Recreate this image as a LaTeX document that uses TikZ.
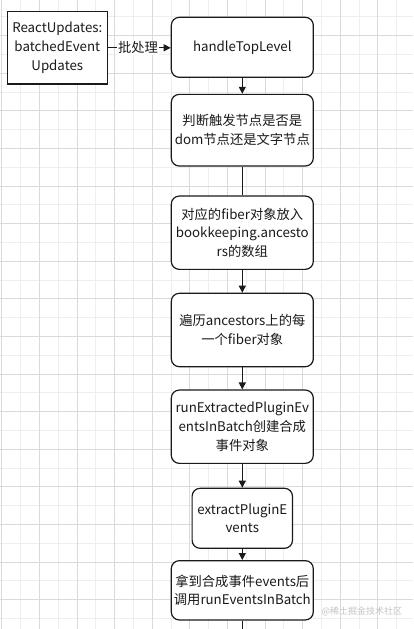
\documentclass[tikz,border=0pt]{standalone}
\usepackage{fontspec}
\setmainfont{Noto Sans CJK SC}
\usetikzlibrary{arrows.meta}
\definecolor{ink}{HTML}{1A1A1A}
\definecolor{gmin}{HTML}{EEEEEE}
\definecolor{gmaj}{HTML}{DADADA}
\definecolor{wm}{HTML}{C4C4C4}
\tikzset{
  boxbase/.style={draw=ink, line width=1.2pt, fill=white, align=center, inner sep=0pt,
    font=\fontsize{13.3}{18.7}\selectfont, text=ink},
  sqbox/.style={boxbase},
  rbox/.style={boxbase, rounded corners=8pt},
  arr/.style={draw=ink, line width=1.2pt, -{Triangle[length=7pt,width=7pt]}},
  ln/.style={draw=ink, line width=1.2pt},
  lbl/.style={fill=white, inner sep=1pt, font=\fontsize{13.3}{16}\selectfont, text=ink},
  gminor/.style={draw=gmin, line width=0.8pt},
  gmajor/.style={draw=gmaj, line width=0.8pt}
}
\begin{document}
\begin{tikzpicture}[x=1pt,y=-1pt]
\useasboundingbox (0,0) rectangle (413,629);
\fill[white] (0,0) rectangle (413,629);
% grid
\foreach \k in {0,...,11} {
  \draw[gminor] ({20.5+37.6*\k},0) -- ({20.5+37.6*\k},629);
}
\foreach \k in {0,...,17} {
  \draw[gminor] (0,{16.7+37.6*\k}) -- (413,{16.7+37.6*\k});
}
\foreach \k in {0,...,11} {
  \draw[gmajor] ({1.7+37.6*\k},0) -- ({1.7+37.6*\k},629);
}
\foreach \k in {0,...,16} {
  \draw[gmajor] (0,{35.5+37.6*\k}) -- (413,{35.5+37.6*\k});
}
% nodes
\node[sqbox, minimum width=100pt, minimum height=72.3pt] (a) at (57.3,47.8) {ReactUpdates:\\batchedEvent\\Updates};
\node[rbox, minimum width=142pt, minimum height=60pt] (b) at (242.3,47.3) {handleTopLevel};
\node[rbox, minimum width=142pt, minimum height=71.7pt] (c) at (242.3,130.2) {判断触发节点是否是\\dom节点还是文字节点};
\node[rbox, minimum width=142pt, minimum height=73.3pt] (d) at (242.3,232.7) {对应的fiber对象放入\\bookkeeping.ancesto\\rs的数组};
\node[rbox, minimum width=142pt, minimum height=73.4pt] (e) at (242.3,330) {遍历ancestors上的每\\一个fiber对象};
\node[rbox, minimum width=142pt, minimum height=73.3pt] (f) at (242.3,426.7) {runExtractedPluginEv\\entsInBatch创建合成\\事件对象};
\node[rbox, minimum width=100.4pt, minimum height=60pt] (g) at (242.3,518.3) {extractPluginE\\vents};
\node[rbox, minimum width=142pt, minimum height=59.3pt] (h) at (242.3,590.3) {拿到合成事件events后\\调用runEventsInBatch};
\coordinate (end) at (242.3,629);
% connectors
\draw[arr] (a.east) -- node[lbl, pos=0.48] {批处理} (a.east -| b.west);
\draw[arr] (b) -- (c);
\draw[ln] (c) -- (d);
\draw[arr] (d) -- (e);
\draw[arr] (e) -- (f);
\draw[arr] (f) -- (g);
\draw[arr] (g) -- (h);
\draw[ln] (h) -- (end);
% watermark
\node[text=wm, font=\fontsize{9}{10}\selectfont, inner sep=0pt, anchor=west] (wmk) at (321.5,611.5) {@稀土掘金技术社区};
\end{tikzpicture}
\end{document}
